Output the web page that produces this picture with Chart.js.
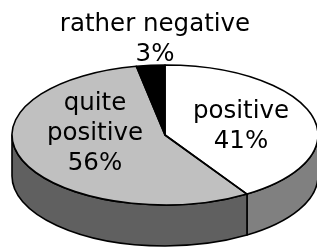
<!DOCTYPE html>
<html>
<head>
<meta charset="utf-8">
<script src="https://cdn.jsdelivr.net/npm/chart.js@4/dist/chart.umd.min.js"></script>
<style>
  html, body { margin: 0; padding: 0; background: #ffffff; }
  #wrap { width: 317px; height: 247px; }
</style>
</head>
<body>
<div id="wrap"><canvas id="c" width="317" height="247"></canvas></div>
<script>
// ---- data ----
const categories = ['positive', 'quite positive', 'rather negative'];
const values = [41, 56, 3];
const topColors = ['#ffffff', '#c0c0c0', '#000000'];
const sideColors = ['#808080', '#606060', '#000000'];
const labelLines = [['positive', '41%'], ['quite', 'positive', '56%'], ['rather negative', '3%']];

// ---- 3D projection layout ----
const CX = 165, CY = 135, RX = 153, RY = 70, DEPTH = 41;
const labelAnchors = [[241, 118], [95, 110], [155, 31]];
const LINE_H = 30;

function tf(ctx, arc) {
  const R = arc.outerRadius;
  ctx.translate(CX, CY);
  ctx.scale(RX / R, RY / R);
  ctx.translate(-arc.x, -arc.y);
}

const pie3d = {
  id: 'pie3d',
  beforeDatasetsDraw(chart) {
    const ctx = chart.ctx;
    const arcs = chart.getDatasetMeta(0).data;
    ctx.save();
    ctx.lineWidth = 1.6;
    ctx.strokeStyle = '#000';
    ctx.lineJoin = 'round';
    arcs.forEach((arc, i) => {
      const a1 = Math.max(arc.startAngle, 0);
      const a2 = Math.min(arc.endAngle, Math.PI);
      if (a2 <= a1) return;
      ctx.beginPath();
      ctx.ellipse(CX, CY, RX, RY, 0, a1, a2, false);
      ctx.lineTo(CX + RX * Math.cos(a2), CY + DEPTH + RY * Math.sin(a2));
      ctx.ellipse(CX, CY + DEPTH, RX, RY, 0, a2, a1, true);
      ctx.closePath();
      ctx.fillStyle = sideColors[i];
      ctx.fill();
      ctx.stroke();
    });
    ctx.restore();
    // transform for the library's own top-face drawing
    ctx.save();
    tf(ctx, arcs[0]);
  },
  afterDatasetsDraw(chart) {
    const ctx = chart.ctx;
    ctx.restore();
    const arcs = chart.getDatasetMeta(0).data;
    ctx.save();
    ctx.lineWidth = 1.6;
    ctx.strokeStyle = '#000';
    ctx.lineJoin = 'round';
    arcs.forEach((arc) => {
      ctx.save();
      tf(ctx, arc);
      ctx.beginPath();
      ctx.moveTo(arc.x, arc.y);
      ctx.arc(arc.x, arc.y, arc.outerRadius, arc.startAngle, arc.endAngle);
      ctx.closePath();
      ctx.restore();
      ctx.stroke();
    });
    // labels
    ctx.fillStyle = '#000';
    ctx.font = '24.5px "DejaVu Sans", Verdana, sans-serif';
    ctx.textAlign = 'center';
    ctx.textBaseline = 'alphabetic';
    labelLines.forEach((lines, i) => {
      const [lx, ly] = labelAnchors[i];
      lines.forEach((t, j) => ctx.fillText(t, lx, ly + j * LINE_H));
    });
    ctx.restore();
  }
};

new Chart(document.getElementById('c'), {
  type: 'pie',
  data: {
    labels: categories,
    datasets: [{
      data: values,
      backgroundColor: topColors,
      borderWidth: 0,
      hoverOffset: 0
    }]
  },
  options: {
    responsive: false,
    animation: false,
    events: [],
    plugins: { legend: { display: false }, tooltip: { enabled: false } }
  },
  plugins: [pie3d]
});
</script>
</body>
</html>
